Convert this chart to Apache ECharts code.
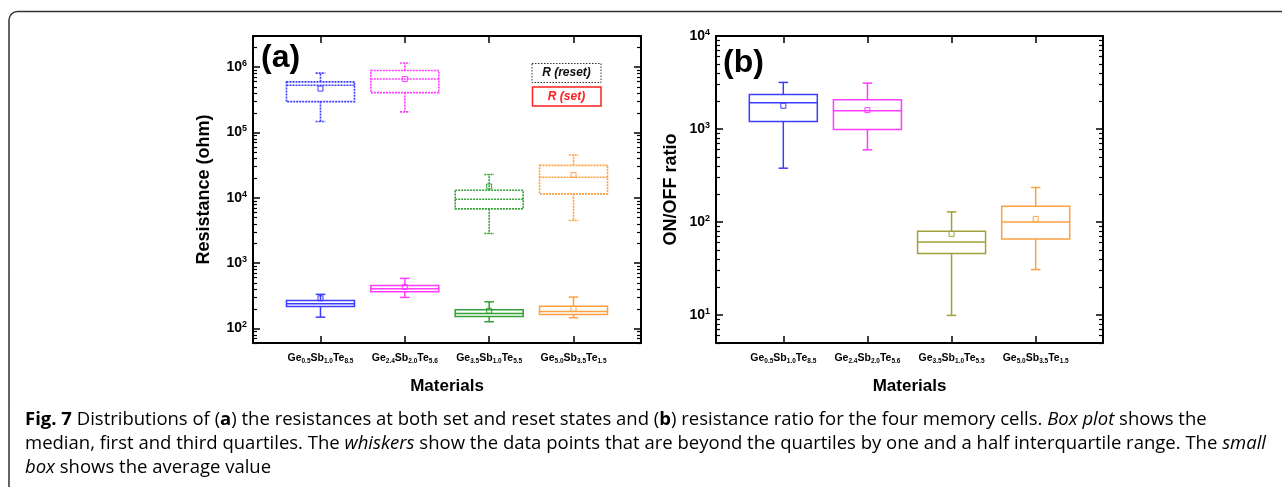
<!DOCTYPE html>
<html>
<head>
<meta charset="utf-8">
<script src="https://cdn.jsdelivr.net/npm/echarts@6/dist/echarts.min.js"></script>
<style>
html,body{margin:0;padding:0;background:#fff;}
#chart{width:1282px;height:487px;}
</style>
</head>
<body>
<div id="chart"></div>
<script>
// ---- data ----
const categories = ['Ge{s|0.5}Sb{s|1.0}Te{s|8.5}', 'Ge{s|2.4}Sb{s|2.0}Te{s|5.6}', 'Ge{s|3.5}Sb{s|1.0}Te{s|5.5}', 'Ge{s|5.0}Sb{s|3.5}Te{s|1.5}'];
const categoryPos = [1, 2, 3, 4];

const resetMin    = [147000, 207000, 2840, 4490];
const resetQ1     = [297000, 408000, 6780, 11500];
const resetMedian = [530000, 660000, 9500, 20700];
const resetQ3     = [596000, 890000, 13100, 31400];
const resetMax    = [810000, 1160000, 22800, 45200];
const resetMean   = [470000, 660000, 14900, 22300];

const setMin    = [149, 299, 127, 146];
const setQ1     = [218, 366, 153, 164];
const setMedian = [239, 406, 170, 182];
const setQ3     = [269, 457, 193, 220];
const setMax    = [333, 585, 256, 303];
const setMean   = [290, 431, 187, 200];

const ratioMin    = [379, 597, 9.9, 30.8];
const ratioQ1     = [1206, 988, 45.8, 65.8];
const ratioMedian = [1916, 1572, 61.1, 100];
const ratioQ3     = [2355, 2064, 79.6, 148];
const ratioMax    = [3170, 3117, 128.5, 235];
const ratioMean   = [1778, 1596, 74.5, 108];

const yMajorA = [1e2, 1e3, 1e4, 1e5, 1e6];
const yMajorB = [1e1, 1e2, 1e3, 1e4];

// ---- helpers ----
const colorsA = ['#3c3cff', '#ff3cff', '#33a033', '#ffa040'];
const colorsB = ['#3c3cff', '#ff3cff', '#a0a03a', '#ffa040'];

function minorTicks(lo, hi) {
  const out = [];
  for (let e = -2; e <= 8; e++) {
    for (let m = 2; m <= 9; m++) {
      const v = m * Math.pow(10, e);
      if (v >= lo && v <= hi) out.push(v);
    }
  }
  return out;
}
function build(mins, q1, med, q3, maxs, mean) {
  return categoryPos.map((x, i) => [x, mins[i], q1[i], med[i], q3[i], maxs[i], mean[i]]);
}
function boxRenderer(colors, dash, lw) {
  return function (params, api) {
    const x = api.value(0);
    const pMin = api.coord([x, api.value(1)]);
    const pQ1 = api.coord([x, api.value(2)]);
    const pMed = api.coord([x, api.value(3)]);
    const pQ3 = api.coord([x, api.value(4)]);
    const pMax = api.coord([x, api.value(5)]);
    const pMean = api.coord([x, api.value(6)]);
    const cx = pMin[0];
    const hw = 34, cap = 4.8;
    const st = { stroke: colors[params.dataIndex], lineWidth: lw, fill: null, lineDash: dash };
    return {
      type: 'group',
      children: [
        { type: 'rect', shape: { x: cx - hw, y: pQ3[1], width: hw * 2, height: pQ1[1] - pQ3[1] }, style: st },
        { type: 'line', shape: { x1: cx - hw, y1: pMed[1], x2: cx + hw, y2: pMed[1] }, style: st },
        { type: 'line', shape: { x1: cx, y1: pQ3[1], x2: cx, y2: pMax[1] }, style: st },
        { type: 'line', shape: { x1: cx, y1: pQ1[1], x2: cx, y2: pMin[1] }, style: st },
        { type: 'line', shape: { x1: cx - cap, y1: pMax[1], x2: cx + cap, y2: pMax[1] }, style: st },
        { type: 'line', shape: { x1: cx - cap, y1: pMin[1], x2: cx + cap, y2: pMin[1] }, style: st },
        { type: 'rect', shape: { x: cx - 2.5, y: pMean[1] - 2.5, width: 5, height: 5 }, style: { stroke: colors[params.dataIndex], lineWidth: 1, fill: null } }
      ]
    };
  };
}

const FONT = 'Liberation Sans, Arial, sans-serif';
const axisLineStyle = { show: true, onZero: false, lineStyle: { color: '#000', width: 2 } };
const supRich = {
  b: { fontFamily: FONT, fontWeight: 'bold', fontSize: 14, color: '#000', lineHeight: 16 },
  sup: { fontFamily: FONT, fontWeight: 'bold', fontSize: 9, color: '#000', lineHeight: 9, verticalAlign: 'top' }
};
const subRich = {
  m: { fontFamily: FONT, fontWeight: 'bold', fontSize: 10.5, color: '#000', lineHeight: 13 },
  s: { fontFamily: FONT, fontWeight: 'bold', fontSize: 6.5, color: '#000', lineHeight: 7, verticalAlign: 'bottom' }
};
function catFormatter(v) {
  const i = categoryPos.indexOf(Math.round(v));
  if (i < 0) return '';
  return categories[i].replace(/(^|\})([A-Za-z]+)/g, (m, p, t) => p + '{m|' + t + '}');
}
function expFormatter(v) {
  return '{b|10}{sup|' + Math.round(Math.log10(v)) + '}';
}

function xAxes(grid) {
  return [
    { gridIndex: grid, type: 'value', min: 0.2, max: 4.8, position: 'bottom',
      axisLine: axisLineStyle, splitLine: { show: false },
      axisTick: { inside: true, length: 7, lineStyle: { color: '#000', width: 1.5 }, customValues: categoryPos },
      axisLabel: { customValues: categoryPos, formatter: catFormatter, rich: subRich, margin: 9 },
      name: 'Materials', nameLocation: 'middle', nameGap: 35,
      nameTextStyle: { fontFamily: FONT, fontWeight: 'bold', fontSize: 17, color: '#000' } },
    { gridIndex: grid, type: 'value', min: 0.2, max: 4.8, position: 'top',
      axisLine: axisLineStyle, splitLine: { show: false },
      axisTick: { inside: true, length: 7, lineStyle: { color: '#000', width: 1.5 }, customValues: categoryPos },
      axisLabel: { show: false } }
  ];
}
function yAxes(grid, lo, hi, major, name, gap) {
  const minor = minorTicks(lo, hi);
  const base = { gridIndex: grid, type: 'log', logBase: 10, min: lo, max: hi, splitLine: { show: false } };
  return [
    Object.assign({}, base, { position: 'left', axisLine: axisLineStyle,
      axisTick: { inside: true, length: 7, lineStyle: { color: '#000', width: 1.5 }, customValues: major },
      axisLabel: { customValues: major, formatter: expFormatter, rich: supRich, margin: 6 },
      name: name, nameLocation: 'middle', nameGap: gap,
      nameTextStyle: { fontFamily: FONT, fontWeight: 'bold', fontSize: 18, color: '#000' } }),
    Object.assign({}, base, { position: 'left', axisLine: { show: false },
      axisTick: { inside: true, length: 4, lineStyle: { color: '#000', width: 1.2 }, customValues: minor },
      axisLabel: { show: false } }),
    Object.assign({}, base, { position: 'right', axisLine: axisLineStyle,
      axisTick: { inside: true, length: 7, lineStyle: { color: '#000', width: 1.5 }, customValues: major },
      axisLabel: { show: false } }),
    Object.assign({}, base, { position: 'right', axisLine: { show: false },
      axisTick: { inside: true, length: 4, lineStyle: { color: '#000', width: 1.2 }, customValues: minor },
      axisLabel: { show: false } })
  ];
}

const chart = echarts.init(document.getElementById('chart'), null, { renderer: 'canvas' });
const capFont = '"Open Sans", sans-serif';
const capRich = {
  n: { fontFamily: capFont, fontSize: 18.5, color: '#2e2e2e' },
  b: { fontFamily: capFont, fontSize: 18.5, color: '#2e2e2e', fontWeight: 'bold' },
  i: { fontFamily: capFont, fontSize: 18.5, color: '#2e2e2e', fontStyle: 'italic' }
};
const capLines = [
  '{b|Fig. 7}{n| Distributions of (}{b|a}{n|) the resistances at both set and reset states and (}{b|b}{n|) resistance ratio for the four memory cells. }{i|Box plot}{n| shows the}',
  '{n|median, first and third quartiles. The }{i|whiskers}{n| show the data points that are beyond the quartiles by one and a half interquartile range. The }{i|small}',
  '{i|box}{n| shows the average value}'
];

chart.setOption({
  animation: false,
  backgroundColor: '#fff',
  grid: [
    { left: 253, top: 36, width: 388, height: 307 },
    { left: 716, top: 36, width: 387, height: 307 }
  ],
  xAxis: xAxes(0).concat(xAxes(1)),
  yAxis: yAxes(0, 60, 3e6, yMajorA, 'Resistance (ohm)', 40).concat(yAxes(1, 5, 1e4, yMajorB, 'ON/OFF ratio', 36)),
  series: [
    { type: 'custom', name: 'R (reset)', xAxisIndex: 0, yAxisIndex: 0, encode: { x: 0, y: [1, 2, 3, 4, 5, 6] },
      renderItem: boxRenderer(colorsA, [2, 1], 1.6), data: build(resetMin, resetQ1, resetMedian, resetQ3, resetMax, resetMean) },
    { type: 'custom', name: 'R (set)', xAxisIndex: 0, yAxisIndex: 0, encode: { x: 0, y: [1, 2, 3, 4, 5, 6] },
      renderItem: boxRenderer(colorsA, null, 1.5), data: build(setMin, setQ1, setMedian, setQ3, setMax, setMean) },
    { type: 'custom', name: 'ON/OFF ratio', xAxisIndex: 2, yAxisIndex: 4, encode: { x: 0, y: [1, 2, 3, 4, 5, 6] },
      renderItem: boxRenderer(colorsB, null, 1.5), data: build(ratioMin, ratioQ1, ratioMedian, ratioQ3, ratioMax, ratioMean) }
  ],
  graphic: [
    { type: 'rect', shape: { x: 9, y: 11.5, width: 1500, height: 700, r: 8.5 }, style: { stroke: '#333', lineWidth: 1.5, fill: null } },
    { type: 'text', left: 261, top: 42, style: { text: '(a)', font: 'bold 32px ' + FONT, fill: '#000' } },
    { type: 'text', left: 723, top: 47, style: { text: '(b)', font: 'bold 32px ' + FONT, fill: '#000' } },
    { type: 'rect', shape: { x: 532, y: 63.5, width: 69, height: 19 }, style: { stroke: '#333', lineWidth: 1, lineDash: [1.5, 1.5], fill: null } },
    { type: 'text', x: 566.5, y: 73, style: { text: 'R (reset)', font: 'italic bold 12px ' + FONT, fill: '#111', align: 'center', verticalAlign: 'middle' } },
    { type: 'rect', shape: { x: 532.5, y: 87, width: 68.5, height: 19 }, style: { stroke: '#ff2020', lineWidth: 1.5, fill: null } },
    { type: 'text', x: 566.5, y: 96.5, style: { text: 'R (set)', font: 'italic bold 12px ' + FONT, fill: '#ff2020', align: 'center', verticalAlign: 'middle' } },
    { type: 'text', x: 25, y: 429, style: { text: capLines[0], rich: capRich, verticalAlign: 'bottom' } },
    { type: 'text', x: 25, y: 453, style: { text: capLines[1], rich: capRich, verticalAlign: 'bottom' } },
    { type: 'text', x: 25, y: 477, style: { text: capLines[2], rich: capRich, verticalAlign: 'bottom' } }
  ]
});
</script>
</body>
</html>
